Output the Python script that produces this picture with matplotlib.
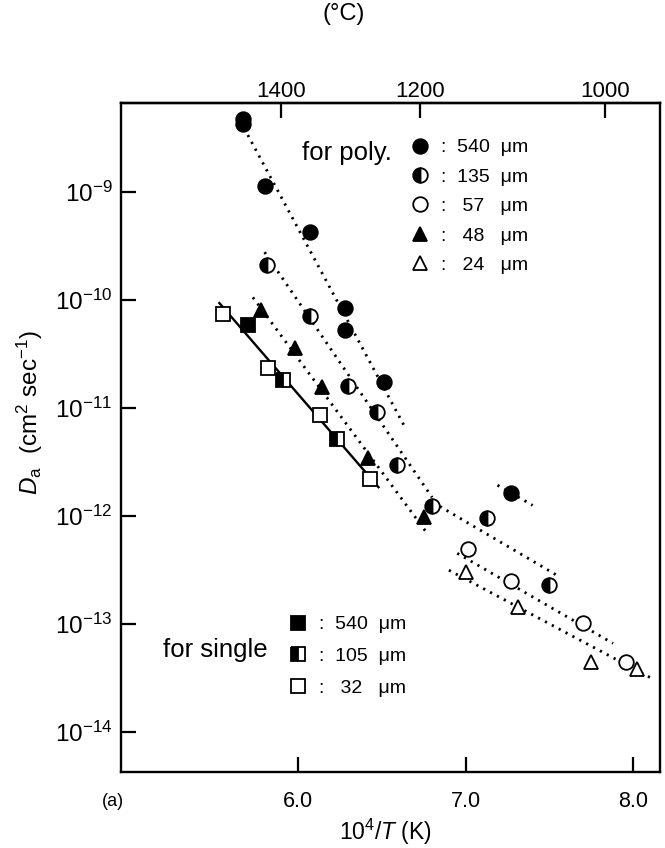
import matplotlib
matplotlib.use("Agg")
import matplotlib.pyplot as plt
from matplotlib.lines import Line2D
from matplotlib.ticker import NullLocator, FixedLocator, LogFormatterMathtext

plt.rcParams["font.family"] = ["Liberation Sans", "DejaVu Sans"]
plt.rcParams["mathtext.fontset"] = "custom"
plt.rcParams["mathtext.rm"] = "Liberation Sans"
plt.rcParams["mathtext.it"] = "Liberation Sans:italic"

# polycrystal data, 10^4/T (K^-1) vs Da (cm^2/sec)
poly540_x = [5.67, 5.67, 5.80, 6.07, 6.28, 6.28, 6.51, 7.27]
poly540_d = [4.7e-9, 4.2e-9, 1.12e-9, 4.2e-10, 8.3e-11, 5.2e-11, 1.74e-11, 1.62e-12]
poly135_x = [5.815, 6.07, 6.30, 6.47, 6.59, 6.80, 7.13, 7.50]
poly135_d = [2.1e-10, 7.0e-11, 1.58e-11, 9.1e-12, 2.94e-12, 1.22e-12, 9.5e-13, 2.3e-13]
poly57_x = [7.015, 7.27, 7.70, 7.96]
poly57_d = [4.9e-13, 2.5e-13, 1.03e-13, 4.4e-14]
poly48_x = [5.78, 5.98, 6.14, 6.42, 6.75]
poly48_d = [8.0e-11, 3.6e-11, 1.55e-11, 3.4e-12, 9.7e-13]
poly24_x = [7.00, 7.31, 7.75, 8.02]
poly24_d = [3.0e-13, 1.42e-13, 4.4e-14, 3.8e-14]

# single crystal data
single540_x = [5.70]
single540_d = [5.8e-11]
single105_x = [5.91, 6.23]
single105_d = [1.82e-11, 5.1e-12]
single32_x = [5.55, 5.82, 6.13, 6.43]
single32_d = [7.4e-11, 2.34e-11, 8.5e-12, 2.2e-12]

# guide lines drawn in the figure (end points)
single_fit_x = [5.53, 6.48]
single_fit_d = [9.3e-11, 1.84e-12]
dotted_fits = [
    ([5.70, 6.645], [3.33e-9, 6.3e-12]),     # 540 um poly
    ([7.19, 7.40], [1.92e-12, 1.25e-12]),    # 540 um poly, low T
    ([5.80, 6.80], [2.75e-10, 1.48e-12]),    # 135 um poly
    ([6.806, 7.546], [1.33e-12, 2.81e-13]),  # 135 um poly, low T
    ([5.73, 6.77], [1.05e-10, 6.9e-13]),     # 48 um poly
    ([6.95, 7.88], [4.5e-13, 6.6e-14]),      # 57 um poly
    ([6.90, 8.10], [3.14e-13, 3.2e-14]),     # 24 um poly
]

top_tick_pos = [5.90, 6.73, 7.83]
top_tick_labels = ["1400", "1200", "1000"]
bottom_ticks = [6.0, 7.0, 8.0]
y_ticks = [1e-14, 1e-13, 1e-12, 1e-11, 1e-10, 1e-9]

W, H = 665, 848
fig = plt.figure(figsize=(W / 100, H / 100), dpi=100)
ax_l, ax_r, ax_t, ax_b = 121, 660, 103, 772
ax = fig.add_axes([ax_l / W, 1 - ax_b / H, (ax_r - ax_l) / W, (ax_b - ax_t) / H])

ax.set_yscale("log")
ax.set_xlim(4.943, 8.16)
ax.set_ylim(10 ** -14.37, 10 ** -8.181)

dot_style = dict(color="k", lw=2.0, linestyle=(0, (0.8, 2.0)), dash_capstyle="butt")
for xs, ds in dotted_fits:
    ax.plot(xs, ds, **dot_style)
ax.plot(single_fit_x, single_fit_d, color="k", lw=1.7)

mk = dict(color="k", ls="none", mec="k", mew=1.3)
ax.plot(poly540_x, poly540_d, marker="o", ms=10.5, mfc="k", **mk)
ax.plot(poly135_x, poly135_d, marker="o", ms=10.5, mfc="k", fillstyle="left", markerfacecoloralt="w", **mk)
ax.plot(poly57_x, poly57_d, marker="o", ms=10.5, mfc="w", **mk)
ax.plot(poly48_x, poly48_d, marker="^", ms=10.5, mfc="k", **mk)
ax.plot(poly24_x, poly24_d, marker="^", ms=10.5, mfc="w", **mk)
ax.plot(single540_x, single540_d, marker="s", ms=10, mfc="k", **mk)
ax.plot(single105_x, single105_d, marker="s", ms=10, mfc="k", fillstyle="left", markerfacecoloralt="w", **mk)
ax.plot(single32_x, single32_d, marker="s", ms=10, mfc="w", **mk)

for s in ax.spines.values():
    s.set_linewidth(1.7)

ax.set_xticks(bottom_ticks)
ax.set_xticklabels([f"{t:.1f}" for t in bottom_ticks])
ax.yaxis.set_major_locator(FixedLocator(y_ticks))
ax.yaxis.set_major_formatter(LogFormatterMathtext())
ax.yaxis.set_minor_locator(NullLocator())
ax.xaxis.set_minor_locator(NullLocator())
ax.tick_params(direction="in", length=11, width=1.6)
ax.tick_params(axis="y", labelsize=17.5, pad=6)
ax.tick_params(axis="x", labelsize=15.5, pad=14)

top = ax.secondary_xaxis("top", functions=(lambda v: v, lambda v: v))
top.xaxis.set_major_locator(FixedLocator(top_tick_pos))
top.set_xticklabels(top_tick_labels)
top.xaxis.set_minor_locator(NullLocator())
top.tick_params(direction="in", length=11, width=1.6, labelsize=16, pad=1)
top.spines["top"].set_linewidth(1.7)

# legends
poly_handles = [
    Line2D([], [], marker="o", ms=10.5, mfc="k", **mk),
    Line2D([], [], marker="o", ms=10.5, mfc="k", fillstyle="left", markerfacecoloralt="w", **mk),
    Line2D([], [], marker="o", ms=10.5, mfc="w", **mk),
    Line2D([], [], marker="^", ms=10.5, mfc="k", **mk),
    Line2D([], [], marker="^", ms=10.5, mfc="w", **mk),
]
poly_labels = [":  540  \u03bcm", ":  135  \u03bcm", ":   57   \u03bcm",
               ":   48   \u03bcm", ":   24   \u03bcm"]
leg1 = ax.legend(poly_handles, poly_labels, loc="upper left",
                 bbox_to_anchor=(401 / W, 1 - 129 / H), bbox_transform=fig.transFigure,
                 frameon=False, borderpad=0, handlelength=1.0, handletextpad=0.55,
                 labelspacing=0.61, fontsize=14)
ax.add_artist(leg1)

single_handles = [
    Line2D([], [], marker="s", ms=10, mfc="k", **mk),
    Line2D([], [], marker="s", ms=10, mfc="k", fillstyle="left", markerfacecoloralt="w", **mk),
    Line2D([], [], marker="s", ms=10, mfc="w", **mk),
]
single_labels = [":  540  \u03bcm", ":  105  \u03bcm", ":   32   \u03bcm"]
leg2 = ax.legend(single_handles, single_labels, loc="upper left",
                 bbox_to_anchor=(279 / W, 1 - 606 / H), bbox_transform=fig.transFigure,
                 frameon=False, borderpad=0, handlelength=1.0, handletextpad=0.55,
                 labelspacing=0.72, fontsize=14)

fig.text(302 / W, 1 - 153 / H, "for poly.", fontsize=18.5, va="center", ha="left")
fig.text(163 / W, 1 - 650 / H, "for single", fontsize=18.5, va="center", ha="left")

fig.text(344 / W, 1 - 14 / H, "(\u00b0C)", fontsize=17, ha="center", va="center")
fig.text(113 / W, 1 - 801 / H, "(a)", fontsize=13, ha="center", va="center")
fig.text(385 / W, 1 - 832 / H, "10$^4$/$T$ (K)", fontsize=16.5, ha="center", va="center")
fig.text(30 / W, 1 - 412 / H, "$D_\\mathrm{a}$  (cm$^2$ sec$^{-1}$)", fontsize=17.5,
         rotation=90, ha="center", va="center")

fig.savefig("out.png", dpi=100)
